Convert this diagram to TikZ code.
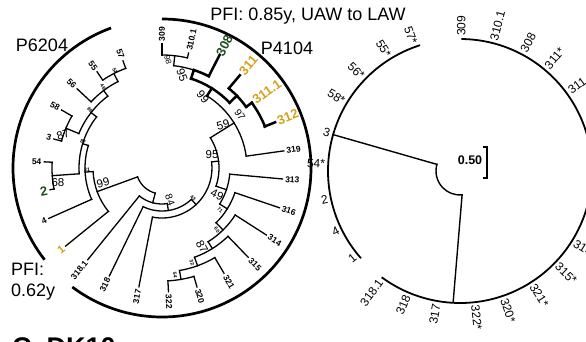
\documentclass[tikz,border=0pt]{standalone}
\usepackage{fontspec}
\setmainfont{Liberation Sans}
\definecolor{goldlab}{RGB}{214,160,28}
\definecolor{greenlab}{RGB}{30,78,30}
% radial segment: [style]{angle}{r1}{r2}
\newcommand\radseg[4][]{\draw[br,#1] (#2:#3) -- (#2:#4);}
% arc segment: [style]{radius}{a1}{a2}
\newcommand\arcseg[4][]{\draw[br,#1] (#3:#2) arc[start angle=#3, end angle=#4, radius=#2];}
% leaf label set radially: [style]{name}{angle}{radius}{text}
\newcommand\tiplab[5][]{%
  \pgfmathparse{or(#3>90,#3<-90)}%
  \ifdim\pgfmathresult pt>0.5pt
    \node[lab,#1,anchor=east,rotate=#3+180] (#2) at (#3:#4) {#5};%
  \else
    \node[lab,#1,anchor=west,rotate=#3] (#2) at (#3:#4) {#5};%
  \fi}
\begin{document}
\begin{tikzpicture}[x=1pt,y=1pt,
  br/.style={line width=1.3pt,line cap=rect},
  thk/.style={line width=2.5pt},
  outer/.style={line width=2.7pt},
  rarc/.style={line width=1.8pt},
  lab/.style={inner sep=0.6pt,font=\bfseries\fontsize{8.5}{9}\selectfont},
  glab/.style={text=goldlab,font=\bfseries\fontsize{13}{14}\selectfont},
  grlab/.style={text=greenlab,font=\bfseries\fontsize{13}{14}\selectfont},
  rlab/.style={inner sep=1pt,font=\fontsize{12}{13}\selectfont},
  bs/.style={inner sep=0.5pt,font=\fontsize{11.5}{12}\selectfont},
  tinybs/.style={inner sep=0.2pt,font=\bfseries\fontsize{5}{5}\selectfont},
  big/.style={inner sep=0pt,font=\fontsize{18}{21}\selectfont}]
\useasboundingbox (0,0) rectangle (586,341);
\clip (0,0) rectangle (586,341);

%% ---------------- left tree ----------------
\begin{scope}[shift={(162,173)}]
% group arcs
\draw[outer] (110:149) arc[start angle=110,end angle=218,radius=149];
\draw[outer] (90:149) arc[start angle=90,end angle=-127,radius=149];
% P6204 clade
\arcseg{106}{110}{124}
\radseg{110}{106}{114} \radseg{124}{106}{116}
\arcseg{97}{117}{137}
\radseg{117}{97}{106} \radseg{137}{97}{116}
\arcseg{104}{150}{165}
\radseg{150}{104}{116} \radseg{165}{104}{112}
\arcseg{90}{127}{157.5}
\radseg{127}{90}{97} \radseg{157.5}{90}{104}
\arcseg{110}{177}{191}
\radseg{177}{110}{118} \radseg{191}{110}{114}
\arcseg{83}{142}{184}
\radseg{142}{83}{90} \radseg{184}{83}{110}
\arcseg{77}{163}{204}
\radseg{163}{77}{83} \radseg{204}{77}{124}
\arcseg{69}{183}{219}
\radseg{183}{69}{77} \radseg{219}{69}{124}
\radseg{200}{26}{69}
% root and basal lineages
\arcseg{26}{200}{255}
\radseg{255}{26}{36}
\arcseg{36}{231}{278.5}
\radseg{231}{36}{118}
\radseg{278.5}{36}{43}
\arcseg{43}{244}{313}
\radseg{244}{43}{120}
\radseg{313}{43}{50}
\arcseg{50}{259}{367}
\radseg{259}{50}{121}
\radseg{7}{50}{57}
\arcseg{57}{-18.6}{32}
\radseg{-18.6}{57}{68}
\radseg{32}{57}{85}
% lower right clade
\arcseg{68}{-32}{-5.2}
\radseg{-5.2}{68}{121} \radseg{-32}{68}{77}
\arcseg{77}{-45.4}{-18.7}
\radseg{-18.7}{77}{124} \radseg{-45.4}{77}{87}
\arcseg{87}{-58}{-32.7}
\radseg{-32.7}{87}{124} \radseg{-58}{87}{95}
\arcseg{95}{-70}{-46}
\radseg{-46}{95}{124} \radseg{-70}{95}{104}
\arcseg{104}{-80.3}{-59.5}
\radseg{-59.5}{104}{122} \radseg{-80.3}{104}{113}
\arcseg{113}{-87}{-73.6}
\radseg{-87}{113}{124} \radseg{-73.6}{113}{124}
% upper right clade
\arcseg{85}{8}{58}
\radseg{8}{85}{123}
\radseg[thk]{58}{85}{94}
\arcseg[thk]{94}{44}{72}
\radseg[thk]{72}{94}{103}
\radseg[thk]{44}{94}{104}
\arcseg[thk]{103}{63}{72}
\arcseg{103}{72}{83.5}
\radseg[thk]{63}{103}{127}
\radseg{83.5}{103}{113}
\arcseg{113}{77}{90}
\radseg{90}{113}{124}
\radseg{77}{113}{118}
\arcseg[thk]{104}{36}{50}
\radseg[thk]{50}{104}{121}
\radseg[thk]{36}{104}{111}
\arcseg[thk]{111}{22}{36}
\radseg[thk]{22}{111}{122}
% leaf labels
\tiplab{t57}{110}{116}{57}
\tiplab{t55}{124}{118}{55}
\tiplab{t56}{137}{118}{56}
\tiplab{t58}{150}{118}{58}
\tiplab{t3}{165}{114}{3}
\tiplab{t54}{177}{120}{54}
\tiplab[grlab]{t2}{191}{116}{2}
\tiplab{t4}{204}{126}{4}
\tiplab[glab,font=\bfseries\fontsize{11}{12}\selectfont]{t1}{219}{126}{1}
\tiplab{t318a}{231}{120}{318.1}
\tiplab{t318}{244}{122}{318}
\tiplab{t317}{259}{123}{317}
\tiplab{t322}{-87}{126}{322}
\tiplab{t320}{-73.6}{126}{320}
\tiplab{t321}{-59.5}{124}{321}
\tiplab{t315}{-46}{126}{315}
\tiplab{t314}{-32.7}{126}{314}
\tiplab{t316}{-18.7}{126}{316}
\tiplab{t313}{-5.2}{123}{313}
\tiplab{t319}{8}{125}{319}
\tiplab[glab]{t312}{22}{124}{312}
\tiplab[glab]{t311a}{36}{113}{311.1}
\tiplab[glab]{t311}{50}{123}{311}
\tiplab[grlab]{t308}{63}{126}{308}
\tiplab{t310a}{77}{120}{310.1}
\tiplab{t309}{90}{126}{309}
\end{scope}

% bootstrap values
\node[bs,rotate=15] (b99a) at (103,158) {99};
\node[bs] (b68) at (58,158) {68};
\node[bs,rotate=20] (b87a) at (63,206) {87};
\node[bs] (b95a) at (212,186) {95};
\node[bs,rotate=15] (b59) at (223,216) {59};
\node[bs,rotate=-50] (b99b) at (203,244) {99};
\node[bs,rotate=-70] (b95b) at (182,266) {95};
\node[bs,rotate=-75,font=\fontsize{8}{8}\selectfont] (b98) at (168,281) {98};
\node[bs,rotate=-55,font=\fontsize{10}{10}\selectfont] (b97) at (240,226) {97};
\node[bs,rotate=-25] (b49) at (217,146) {49};
\node[bs,rotate=-60] (b87b) at (202,94) {87};
\node[bs,rotate=-70,font=\fontsize{10}{10}\selectfont] (b84) at (170,141) {84};
\node[tinybs,rotate=-60] (s1) at (115,270) {52};
\node[tinybs,rotate=-50] (s2) at (103,254) {48};
\node[tinybs,rotate=-40] (s3) at (90,231) {86};
\node[tinybs,rotate=-20] (s4) at (83,199) {87};
\node[tinybs] (s5) at (87,171) {31};
\node[tinybs,rotate=-40] (s6) at (193,143) {43};
\node[tinybs,rotate=-80] (s7) at (175,66) {54};
\node[tinybs,rotate=-70] (s8) at (192,78) {32};
\node[tinybs,rotate=-40] (s9) at (220,131) {71};
\node[tinybs,rotate=-50] (s10) at (217,111) {60};
\node[tinybs,rotate=-60] (s11) at (265,214) {1};

% group labels
\node[big] (p6204) at (42,296) {P6204};
\node[big] (p4104) at (287,293) {P4104};
\node[big] (pfi1) at (308,325) {PFI: 0.85y, UAW to LAW};
\node[big,align=left,anchor=north west] (pfi2) at (11,78) {PFI:\\0.62y};
\node[inner sep=0pt,anchor=north west,font=\bfseries\fontsize{27}{28}\selectfont] (panel) at (12,4) {C. DK10};

%% ---------------- right tree ----------------
\begin{scope}[shift={(460,170)}]
\arcseg[rarc]{132}{108}{221}
\arcseg[rarc]{132}{89}{-126}
\radseg[line width=1.4pt]{164}{24}{132}
\arcseg[line width=1.4pt]{24}{164}{275}
\draw[line width=1.4pt] (275:24) -- (-93:132);
\tiplab[rlab]{r57}{110}{134}{57*}
\tiplab[rlab]{r55}{122}{134}{55*}
\tiplab[rlab]{r56}{136}{134}{56*}
\tiplab[rlab]{r58}{149}{134}{58*}
\tiplab[rlab]{r3}{164}{134}{3}
\tiplab[rlab]{r54}{177}{134}{54*}
\tiplab[rlab]{r2}{192}{134}{2}
\tiplab[rlab]{r4}{206}{134}{4}
\tiplab[rlab]{r1}{219}{134}{1}
\tiplab[rlab]{r309}{89.5}{134}{309}
\tiplab[rlab]{r310a}{75.5}{134}{310.1}
\tiplab[rlab]{r308}{62}{134}{308}
\tiplab[rlab]{r311}{50}{134}{311*}
\tiplab[rlab]{r311a}{36}{134}{311.1}
\tiplab[rlab]{r314}{-32}{134}{314}
\tiplab[rlab]{r315}{-44}{134}{315*}
\tiplab[rlab]{r321}{-57.5}{134}{321*}
\tiplab[rlab]{r320}{-71}{134}{320*}
\tiplab[rlab]{r322}{-83.5}{134}{322*}
\tiplab[rlab]{r317}{-100}{134}{317}
\tiplab[rlab]{r318}{-113}{134}{318}
\tiplab[rlab]{r318a}{-126}{134}{318.1}
\end{scope}
% scale bar
\draw[line width=1.4pt] (483,194) -- (487,194) -- (487,163) -- (483,163);
\node[inner sep=0pt,font=\bfseries\fontsize{12.5}{13}\selectfont] (scale) at (470,181) {0.50};
\end{tikzpicture}
\end{document}
